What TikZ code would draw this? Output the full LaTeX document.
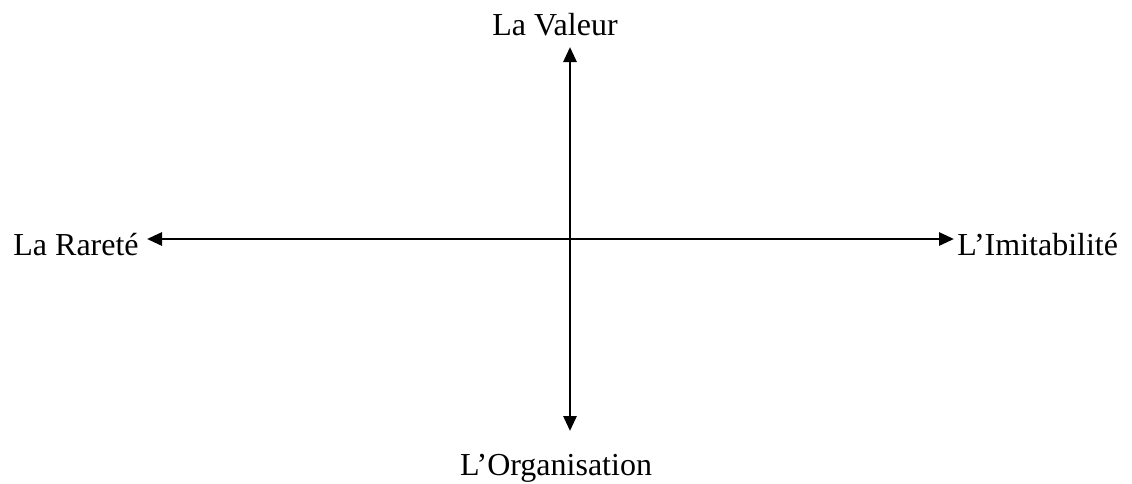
\documentclass[tikz,border=0pt]{standalone}
\usepackage{fontspec}
\setmainfont{Liberation Serif}
\usetikzlibrary{arrows.meta}

\begin{document}
\begin{tikzpicture}[
    x=0.5pt, y=-0.5pt,
    lbl/.style={font=\fontsize{16}{19}\selectfont, inner sep=0pt},
    axis/.style={line width=1.4pt},
    >={Triangle[length=7.5pt, width=6.5pt]}
  ]
  \useasboundingbox (0,0) rectangle (1132,483);

  % axis ends
  \coordinate (top) at (570,47);
  \coordinate (bottom) at (570,431);
  \coordinate (left) at (147,239);
  \coordinate (right) at (954,239);

  \node[lbl, anchor=base] (valeur) at (555,35) {La Valeur};
  \node[lbl, anchor=base] (organisation) at (556,475) {L’Organisation};
  \node[lbl, anchor=base west] (rarete) at (13,255) {La Rareté};
  \node[lbl, anchor=base west] (imitabilite) at (957,255) {L’Imitabilité};

  \draw[axis, <->] (top) -- (bottom);
  \draw[axis, <->] (left) -- (right);
\end{tikzpicture}
\end{document}
